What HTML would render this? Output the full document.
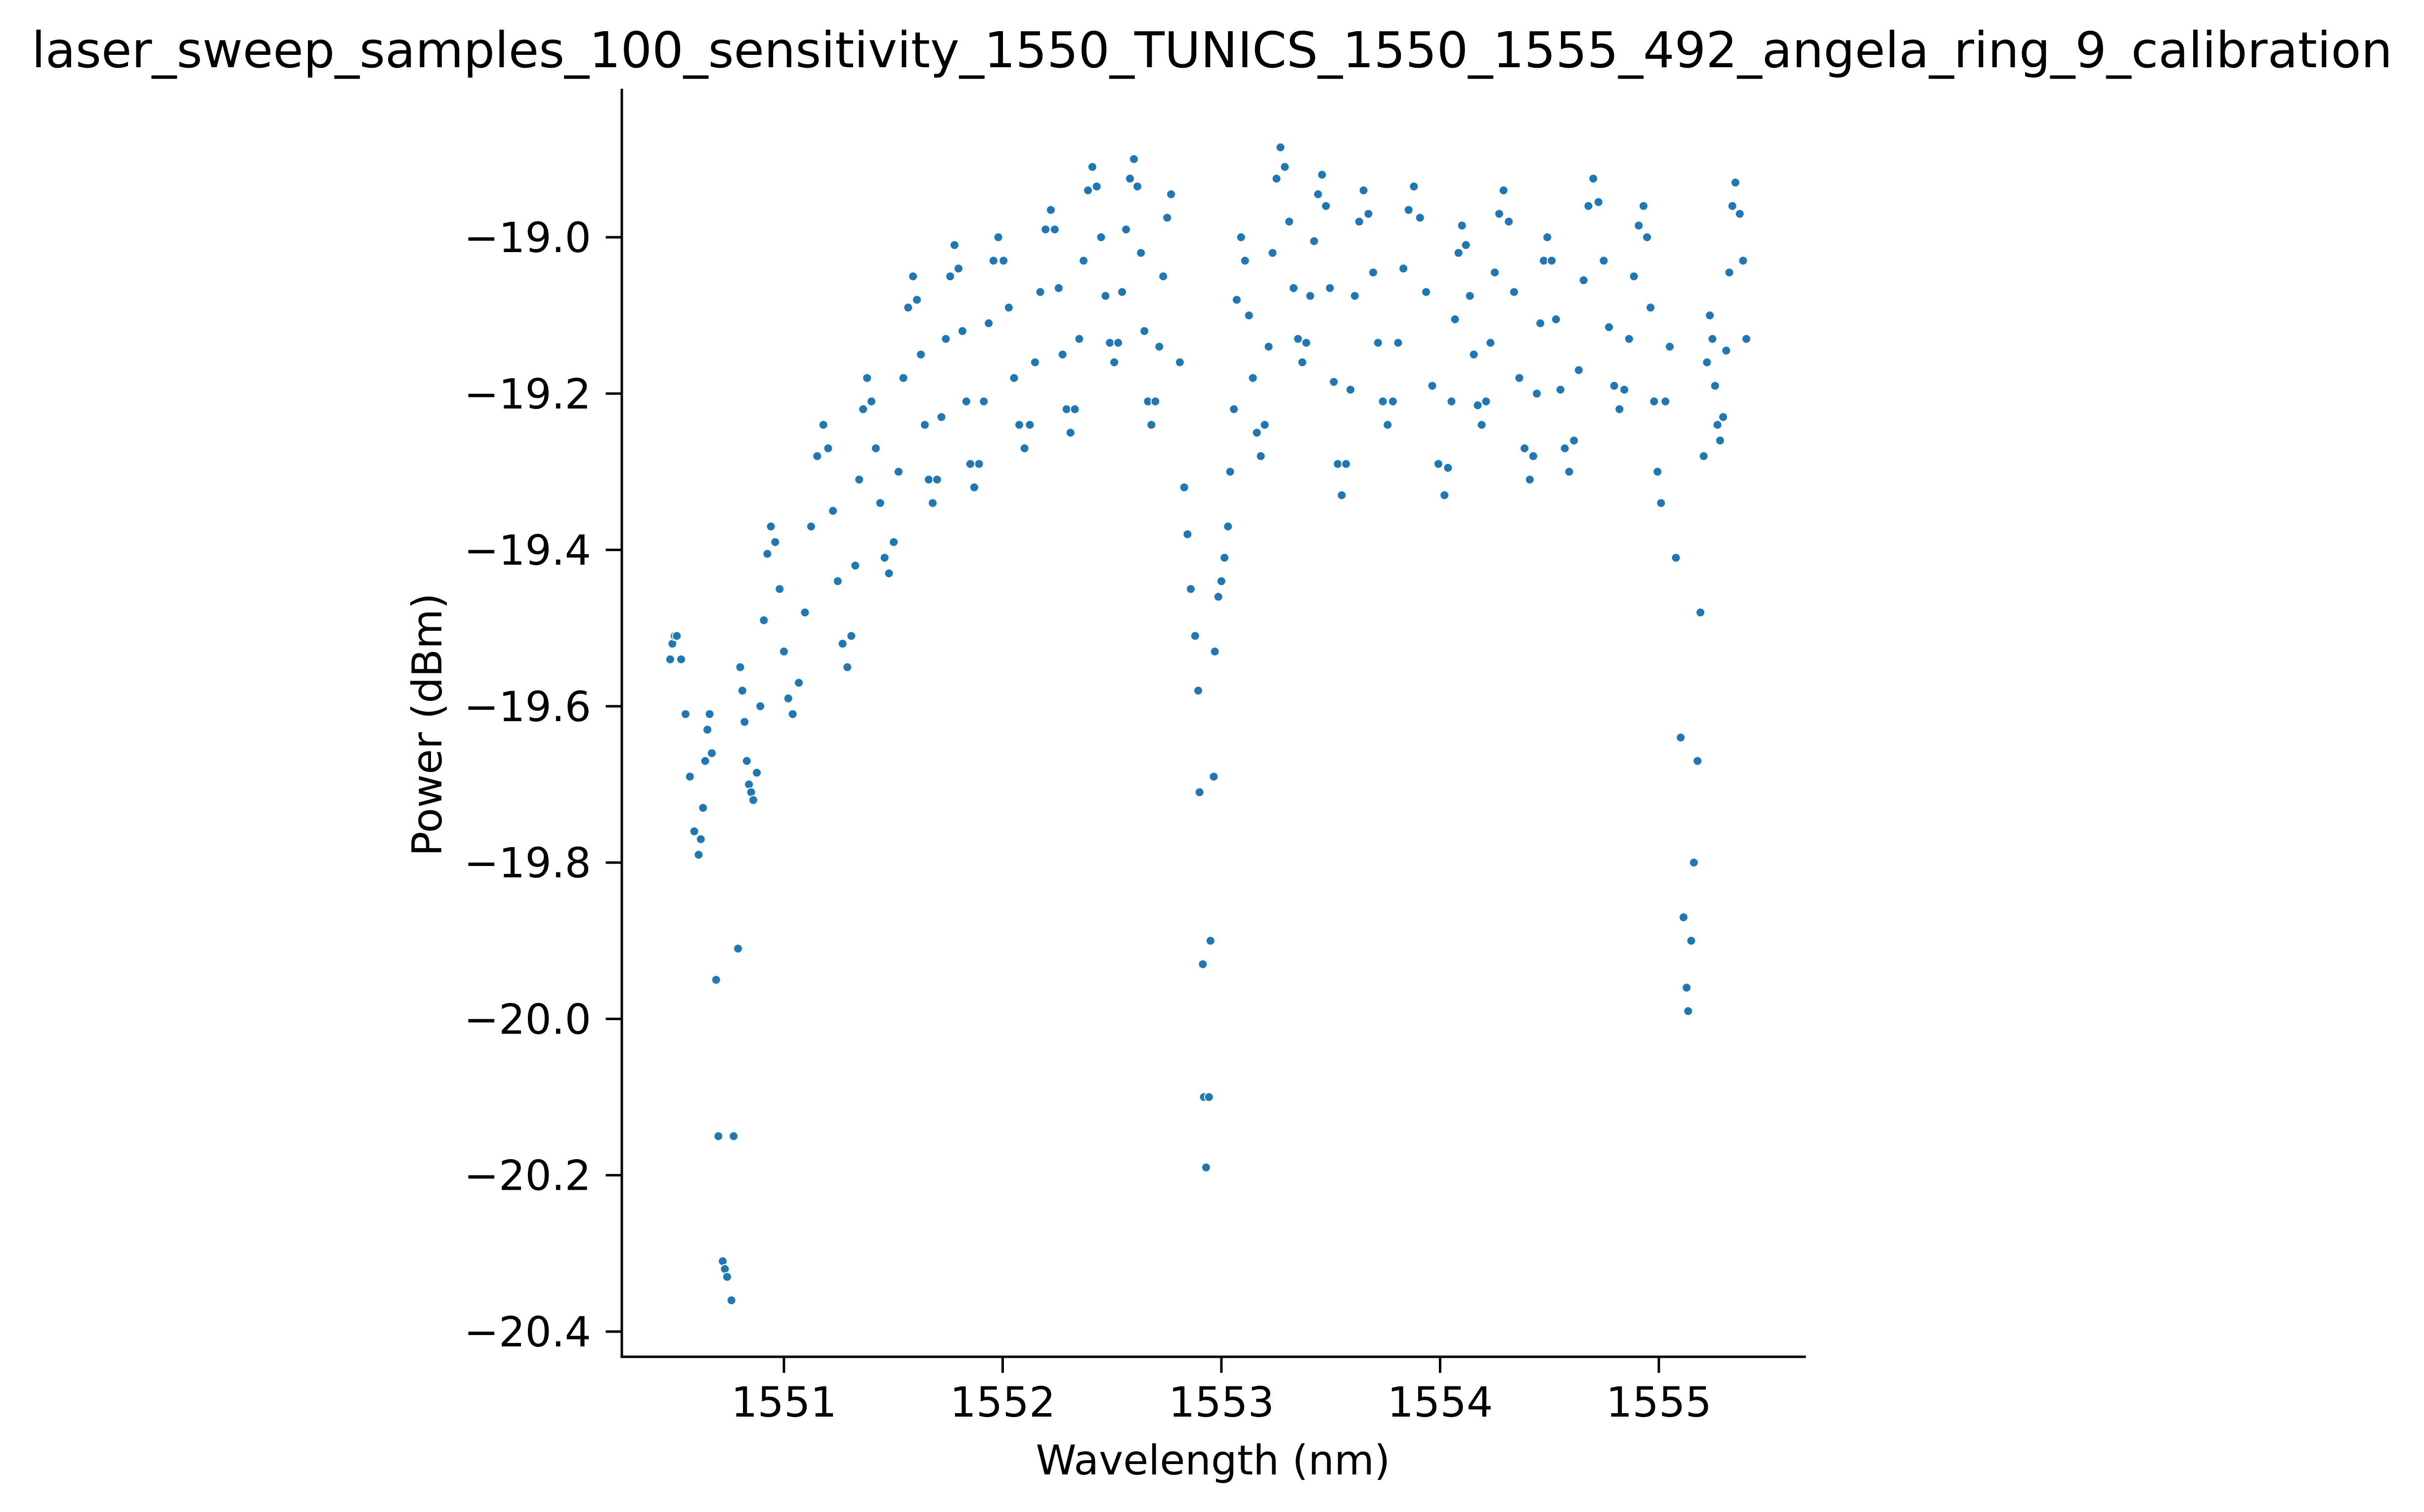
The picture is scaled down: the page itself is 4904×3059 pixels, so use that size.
<!DOCTYPE html>
<html><head><meta charset="utf-8"><style>
html,body{margin:0;padding:0;background:#fff;}
svg{display:block;font-family:"DejaVu Sans","Liberation Sans",sans-serif;}
</style></head><body>
<svg id="chart" width="4904" height="3059" viewBox="0 0 4904 3059" xmlns="http://www.w3.org/2000/svg">
<rect width="4904" height="3059" fill="#fff"/>
<text x="2452" y="136" font-size="100" text-anchor="middle" textLength="4776" lengthAdjust="spacingAndGlyphs">laser_sweep_samples_100_sensitivity_1550_TUNICS_1550_1555_492_angela_ring_9_calibration</text>
<g id="points"></g>
<g id="axes"></g>
<text x="2454" y="2983" font-size="83" text-anchor="middle">Wavelength (nm)</text>
<text x="893" y="1466" font-size="83" text-anchor="middle" transform="rotate(-90 893 1466)">Power (dBm)</text>
</svg>
<script>
const xTicks = [1551, 1552, 1553, 1554, 1555];
const yTicks = [-19.0, -19.2, -19.4, -19.6, -19.8, -20.0, -20.2, -20.4];
const yTickLabels = ["\u221219.0","\u221219.2","\u221219.4","\u221219.6","\u221219.8","\u221220.0","\u221220.2","\u221220.4"];
const wavelengths = [
1550.48,1550.49,1550.50,1550.51,1550.53,1550.55,1550.57,1550.59,
1550.61,1550.62,1550.63,1550.64,1550.65,1550.66,1550.67,
1550.69,1550.70,1550.72,1550.73,1550.74,1550.76,1550.77,1550.79,1550.80,1550.81,
1550.82,1550.83,1550.84,1550.85,1550.86,
1550.876,1550.892,1550.908,1550.924,1550.94,
1550.96,1550.98,1551.00,1551.02,1551.04,
1551.068,1551.096,1551.124,1551.152,1551.18,
1551.202,1551.224,1551.246,1551.268,1551.29,
1551.308,1551.326,1551.344,1551.362,1551.38,
1551.40,1551.42,1551.44,1551.46,1551.48,
1551.502,1551.524,1551.546,1551.568,1551.59,
1551.608,1551.626,1551.644,1551.662,1551.68,
1551.70,1551.72,1551.74,1551.76,1551.78,
1551.798,1551.816,1551.834,1551.852,1551.87,
1551.892,1551.914,1551.936,1551.958,1551.98,
1552.004,1552.028,1552.052,1552.076,1552.10,
1552.124,1552.148,1552.172,1552.196,1552.22,
1552.238,1552.256,1552.274,1552.292,1552.31,
1552.33,1552.35,1552.37,1552.39,1552.41,
1552.43,1552.45,1552.47,1552.49,1552.51,
1552.528,1552.546,1552.564,1552.582,1552.60,
1552.616,1552.632,1552.648,1552.664,1552.68,
1552.698,1552.716,1552.734,1552.752,1552.77,
1552.81,1552.83,1552.845,1552.86,1552.88,1552.894,1552.90,1552.915,1552.92,1552.93,1552.943,1552.95,1552.965,1552.97,1552.986,1553.00,1553.014,1553.03,1553.04,1553.057,1553.07,1553.09,
1553.108,1553.126,1553.144,1553.162,1553.18,
1553.198,1553.216,1553.234,1553.252,1553.27,
1553.29,1553.31,1553.33,1553.35,1553.37,
1553.388,1553.406,1553.424,1553.442,1553.46,
1553.478,1553.496,1553.514,1553.532,1553.55,
1553.57,1553.59,1553.61,1553.63,1553.65,
1553.672,1553.694,1553.716,1553.738,1553.76,
1553.784,1553.808,1553.832,1553.856,1553.88,
1553.908,1553.936,1553.964,1553.992,1554.02,
1554.036,1554.052,1554.068,1554.084,1554.10,
1554.118,1554.136,1554.154,1554.172,1554.19,
1554.21,1554.23,1554.25,1554.27,1554.29,
1554.314,1554.338,1554.362,1554.386,1554.41,
1554.426,1554.442,1554.458,1554.474,1554.49,
1554.51,1554.53,1554.55,1554.57,1554.59,
1554.612,1554.634,1554.656,1554.678,1554.70,
1554.724,1554.748,1554.772,1554.796,1554.82,
1554.842,1554.864,1554.886,1554.908,1554.93,
1554.946,1554.962,1554.978,1554.994,1555.01,
1555.03,1555.05,1555.078,1555.10,1555.113,1555.127,1555.134,1555.148,1555.16,1555.177,1555.19,1555.205,1555.22,1555.233,
1555.245,1555.257,1555.268,1555.28,
1555.294,1555.308,1555.322,1555.336,1555.35,
1555.37,1555.385,1555.40
];
const powers = [
-19.54,-19.52,-19.51,-19.51,-19.54,-19.61,-19.69,-19.76,
-19.79,-19.77,-19.73,-19.67,-19.63,-19.61,-19.66,
-19.95,-20.15,-20.31,-20.32,-20.33,-20.36,-20.15,-19.91,-19.55,-19.58,
-19.62,-19.67,-19.70,-19.71,-19.72,
-19.685,-19.60,-19.49,-19.405,-19.37,
-19.39,-19.45,-19.53,-19.59,-19.61,
-19.57,-19.48,-19.37,-19.28,-19.24,
-19.27,-19.35,-19.44,-19.52,-19.55,
-19.51,-19.42,-19.31,-19.22,-19.18,
-19.21,-19.27,-19.34,-19.41,-19.43,
-19.39,-19.30,-19.18,-19.09,-19.05,
-19.08,-19.15,-19.24,-19.31,-19.34,
-19.31,-19.23,-19.13,-19.05,-19.01,
-19.04,-19.12,-19.21,-19.29,-19.32,
-19.29,-19.21,-19.11,-19.03,-19.00,
-19.03,-19.09,-19.18,-19.24,-19.27,
-19.24,-19.16,-19.07,-18.99,-18.965,
-18.99,-19.065,-19.15,-19.22,-19.25,
-19.22,-19.13,-19.03,-18.94,-18.91,
-18.935,-19.00,-19.075,-19.135,-19.16,
-19.135,-19.07,-18.99,-18.925,-18.90,
-18.935,-19.02,-19.12,-19.21,-19.24,
-19.21,-19.14,-19.05,-18.975,-18.945,
-19.16,-19.32,-19.38,-19.45,-19.51,-19.58,-19.71,-19.93,-20.10,-20.19,-20.10,-19.90,-19.69,-19.53,-19.46,-19.44,-19.41,-19.37,-19.30,-19.22,-19.08,-19.00,
-19.03,-19.10,-19.18,-19.25,-19.28,
-19.24,-19.14,-19.02,-18.925,-18.885,
-18.91,-18.98,-19.065,-19.13,-19.16,
-19.135,-19.075,-19.005,-18.945,-18.92,
-18.96,-19.065,-19.185,-19.29,-19.33,
-19.29,-19.195,-19.075,-18.98,-18.94,
-18.97,-19.045,-19.135,-19.21,-19.24,
-19.21,-19.135,-19.04,-18.965,-18.935,
-18.975,-19.07,-19.19,-19.29,-19.33,
-19.295,-19.21,-19.105,-19.02,-18.985,
-19.01,-19.075,-19.15,-19.215,-19.24,
-19.21,-19.135,-19.045,-18.97,-18.94,
-18.98,-19.07,-19.18,-19.27,-19.31,
-19.28,-19.20,-19.11,-19.03,-19.00,
-19.03,-19.105,-19.195,-19.27,-19.30,
-19.26,-19.17,-19.055,-18.96,-18.925,
-18.955,-19.03,-19.115,-19.19,-19.22,
-19.195,-19.13,-19.05,-18.985,-18.96,
-19.00,-19.09,-19.21,-19.30,-19.34,
-19.21,-19.14,-19.41,-19.64,-19.87,-19.96,-19.99,-19.90,-19.80,-19.67,-19.48,-19.28,-19.16,-19.10,
-19.13,-19.19,-19.24,-19.26,
-19.23,-19.145,-19.045,-18.96,-18.93,
-18.97,-19.03,-19.13
];

const NS = "http://www.w3.org/2000/svg";
const X0 = 1586, XS = 442.5;
const Y0 = 480, YS = 1581.4;
function xScale(v){ return X0 + (v - 1551) * XS; }
function yScale(v){ return Y0 + (-19 - v) * YS; }
const L = 1258, R = 3651, T = 182, B = 2745;

const pts = document.getElementById('points');
for (let i = 0; i < wavelengths.length; i++) {
  const c = document.createElementNS(NS, 'circle');
  c.setAttribute('cx', xScale(wavelengths[i]).toFixed(1));
  c.setAttribute('cy', yScale(powers[i]).toFixed(1));
  c.setAttribute('r', '9');
  c.setAttribute('fill', '#1f77b4');
  c.setAttribute('stroke', '#fff');
  c.setAttribute('stroke-width', '2');
  
  
  pts.appendChild(c);
}

const ax = document.getElementById('axes');
function line(x1,y1,x2,y2,w,name){
  const l = document.createElementNS(NS,'line');
  l.setAttribute('x1',x1); l.setAttribute('y1',y1);
  l.setAttribute('x2',x2); l.setAttribute('y2',y2);
  l.setAttribute('stroke','#000'); l.setAttribute('stroke-width',w);
  l.setAttribute('stroke-linecap','square');
  
  
  ax.appendChild(l);
}
line(L,T,L,B,5,'y-axis-spine');
line(L,B,R,B,5,'x-axis-spine');
xTicks.forEach(function(t){
  const x = xScale(t);
  line(x,B,x,B+30,5,'x-tick');
  const tx = document.createElementNS(NS,'text');
  tx.setAttribute('x',x); tx.setAttribute('y',2866);
  tx.setAttribute('font-size','84'); tx.setAttribute('text-anchor','middle');
  tx.textContent = String(t);
  
  
  ax.appendChild(tx);
});
yTicks.forEach(function(t,i){
  const y = yScale(t);
  line(L-30,y,L,y,5,'y-tick');
  const tx = document.createElementNS(NS,'text');
  tx.setAttribute('x',1196); tx.setAttribute('y',y+30);
  tx.setAttribute('font-size','84'); tx.setAttribute('text-anchor','end');
  tx.textContent = yTickLabels[i];
  
  
  ax.appendChild(tx);
});
</script>
</body></html>
